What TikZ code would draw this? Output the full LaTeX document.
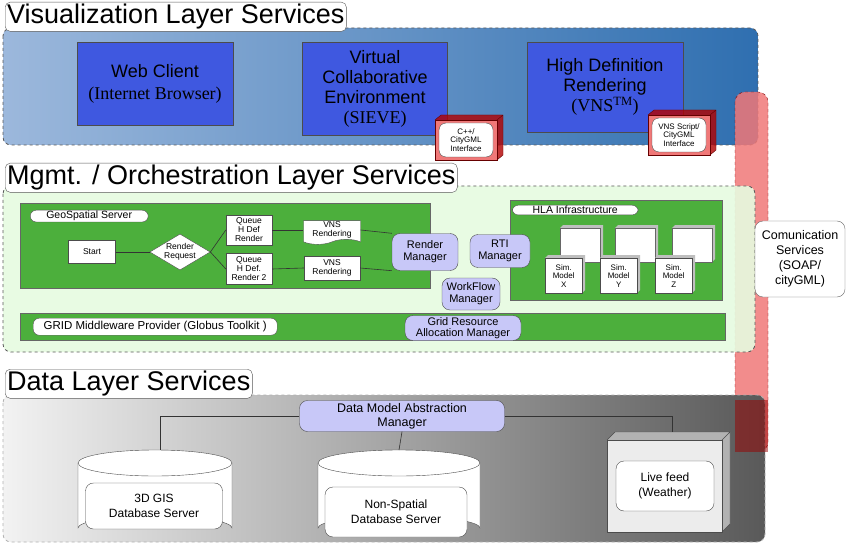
\documentclass[tikz,border=0pt]{standalone}
\usepackage{fontspec}
\setmainfont{Liberation Sans}
\usetikzlibrary{shapes.geometric,shapes.symbols}
\definecolor{vblue}{HTML}{3F58E0}
\definecolor{lav}{HTML}{C8C8F8}
\definecolor{gr}{HTML}{4CAF3C}
\definecolor{lgr}{HTML}{E6FBE0}
\definecolor{rd}{HTML}{F07878}
\definecolor{bl1}{HTML}{9CB8DC}
\definecolor{bl2}{HTML}{2F6FB0}
\tikzset{
 band/.style={draw=gray!70!black,dashed,line width=0.8pt,rounded corners=8pt},
 title/.style={draw=gray!70!black,fill=white,rounded corners=5pt,anchor=north west,font=\fontsize{27}{29}\selectfont,inner sep=2pt},
 vbox/.style={draw=black!70,fill=vblue,align=center,font=\fontsize{18}{20}\selectfont},
 lbl/.style={draw=black!70,fill=white,rounded corners=6pt,anchor=north west,font=\fontsize{10.5}{11}\selectfont,inner sep=1pt},
 mgr/.style={draw=black!70,fill=lav,rounded corners=8pt,align=center,font=\fontsize{11}{12}\selectfont,inner sep=1pt},
 wbox/.style={draw=black!70,fill=white,align=center,font=\fontsize{8.5}{9}\selectfont,inner sep=1pt},
 gbox/.style={draw=black!60,fill=gr,line width=0.8pt},
 conn/.style={draw=black!80,line width=0.6pt},
}
\begin{document}
\begin{tikzpicture}[x=1pt,y=-1pt]
\useasboundingbox[fill=white] (0,0) rectangle (850,545);
% visualization band
\shade[rounded corners=8pt,left color=bl1,right color=bl2] (3,28) rectangle (758,145);
\draw[band] (3,28) rectangle (758,145);
\node[title] (vt) at (5,2) {Visualization Layer Services};
\node[vbox,minimum width=156,minimum height=83] (web) at (155,84) {Web Client\\[2pt]{\fontspec{Liberation Serif}(Internet Browser)}};
\node[vbox,minimum width=145,minimum height=93] (vce) at (375,89) {Virtual\\Collaborative\\Environment\\{\fontspec{Liberation Serif}(SIEVE)}};
\node[vbox,minimum width=156,minimum height=90] (hdr) at (605,87) {High Definition\\Rendering\\{\fontspec{Liberation Serif}(VNS\textsuperscript{TM})}};
% interface boxes
\foreach \n/\x/\y/\t in {ci/435/120/{C++/\\CityGML\\Interface},vi/648/115/{VNS Script/\\CityGML\\Interface}}{
 \fill[red!70!black,opacity=.8] (\x,\y) -- ++(6,-5) -- ++(62,0) -- ++(0,40) -- ++(-6,5) -- cycle;
 \draw[red!40!black,fill=rd] (\x,\y) rectangle ++(62,40);
 \draw[red!40!black] (\x,\y) -- ++(6,-5) -- ++(62,0) -- ++(0,40) -- ++(-6,5) (\x+62,\y) -- ++(6,-5);
 \node[draw=black!70,fill=white,rounded corners=7pt,minimum width=54,minimum height=34,align=center,font=\fontsize{8}{8.5}\selectfont,inner sep=0pt] (\n) at (\x+31,\y+20) {\t};
}
% communication
\fill[rd,opacity=.85,rounded corners=10pt] (735,92) rectangle (768,452);
\draw[red!50!black,dashed,rounded corners=10pt] (735,92) rectangle (768,452);
% mgmt band
\fill[lgr,rounded corners=8pt,opacity=.9] (3,186) rectangle (755,352);
\draw[band] (3,186) rectangle (755,352);
\node[title] (mt) at (5,163) {Mgmt. / Orchestration Layer Services};
\node[draw=black!60,fill=white,rounded corners=8pt,align=center,font=\fontsize{12.5}{15}\selectfont,minimum width=90,minimum height=76,inner sep=1pt] (com) at (800,259) {Comunication\\Services\\(SOAP/\\cityGML)};
% geospatial
\draw[gbox] (20,203) rectangle (430,288);
\node[lbl,minimum width=118] (gl) at (30,210) {GeoSpatial Server};
\node[wbox,minimum width=47,minimum height=23] (start) at (92,252) {Start};
\node[diamond,draw=black!70,fill=white,aspect=1.7,inner sep=0pt,minimum width=60,minimum height=36,align=center,font=\fontsize{8.5}{9}\selectfont] (rr) at (180,252) {Render\\Request};
\node[wbox,minimum width=46,minimum height=30] (q1) at (249,230) {Queue\\H Def\\Render};
\node[wbox,minimum width=46,minimum height=31] (q2) at (249,269) {Queue\\H Def.\\Render 2};
\node[tape,tape bend top=none,draw=black!70,fill=white,minimum width=57,minimum height=20,align=center,font=\fontsize{8.5}{9}\selectfont,inner sep=1pt] (v1) at (332,230) {VNS\\Rendering};
\node[wbox,minimum width=56,minimum height=24] (v2) at (332,268) {VNS\\Rendering};
% HLA
\draw[gbox] (510,200) rectangle (722,300);
\node[lbl,minimum width=126] (hl) at (512,205) {HLA Infrastructure};
\foreach \bx in {560,615,672}{
 \fill[gray!50] (\bx,228) -- ++(3,-3) -- ++(40,0) -- ++(0,34) -- ++(-3,3) -- cycle;
 \draw[black!60,fill=white] (\bx,228) rectangle ++(40,34);
}
\foreach \n/\bx/\t in {sx/545/X,sy/600/Y,sz/655/Z}{
 \fill[gray!50] (\bx,258) -- ++(3,-3) -- ++(37,0) -- ++(0,35) -- ++(-3,3) -- cycle;
 \node[wbox,anchor=north west,minimum width=37,minimum height=35,font=\fontsize{8}{8.5}\selectfont] (\n) at (\bx,258) {Sim.\\Model\\\t};
}
\node[mgr,minimum width=66,minimum height=37] (rm) at (425,252) {Render\\Manager};
\node[mgr,minimum width=60,minimum height=33] (rti) at (500,251) {RTI\\Manager};
\node[mgr,minimum width=58,minimum height=32] (wf) at (471,294) {WorkFlow\\Manager};
\draw[conn] (start.east) -- (rr.west);
\draw[conn] (rr.east) -- (q1.west);
\draw[conn] (rr.east) -- (q2.west);
\draw[conn] (q1.east) -- (v1.west);
\draw[conn] (q2.east) -- (v2.west);
\draw[conn] (v1.east) -- (rm.north west);
\draw[conn] (v2.east) -- (rm.south west);
% grid
\draw[gbox] (20,313) rectangle (725,340);
\node[lbl,minimum width=244,minimum height=17,font=\fontsize{11.5}{12}\selectfont] (gd) at (33,318) {GRID Middleware Provider (Globus Toolkit )};
\node[mgr,minimum width=116,minimum height=25,font=\fontsize{11}{11.5}\selectfont] (gram) at (463,328) {Grid Resource\\Allocation Manager};
% data band
\shade[rounded corners=8pt,left color=gray!10,right color=black!65] (3,395) rectangle (765,542);
\draw[band,draw=gray!60] (3,395) rectangle (765,542);
\fill[red!60!black,opacity=.5] (735,400) rectangle (768,452);
\node[title] (dt) at (5,369) {Data Layer Services};
\node[mgr,minimum width=205,minimum height=31,font=\fontsize{12.5}{14}\selectfont] (dm) at (402,416) {Data Model Abstraction\\Manager};
% cylinders
\foreach \n/\cx/\w in {c1/155/77,c2/399/81}{
 \draw[black!70,fill=white] (\cx-\w,463) -- (\cx-\w,528) arc[start angle=180,end angle=360,x radius=\w,y radius=12] -- (\cx+\w,463);
 \draw[black!70,fill=white] (\cx,463) ellipse[x radius=\w,y radius=13];
}
\node[draw=black!70,fill=white,rounded corners=8pt,minimum width=137,minimum height=46,align=center,font=\fontsize{12}{15}\selectfont] (g1) at (154,506) {3D GIS\\Database Server};
\node[draw=black!70,fill=white,rounded corners=8pt,minimum width=142,minimum height=50,align=center,font=\fontsize{12}{15}\selectfont] (g2) at (396,512) {Non-Spatial\\Database Server};
\coordinate (c1top) at (160,450);
\coordinate (c2top) at (399,450);
% live feed
\fill[gray!60] (607,440) -- ++(8,-8) -- ++(115,0) -- ++(0,92) -- ++(-8,8) -- cycle;
\draw[black!70,fill=gray!15] (607,440) rectangle (722,532);
\draw[black!70] (607,440) -- ++(8,-8) -- ++(115,0) -- ++(0,92) -- ++(-8,8) (722,440) -- ++(8,-8);
\node[draw=black!70,fill=white,rounded corners=8pt,minimum width=98,minimum height=50,align=center,font=\fontsize{12}{15}\selectfont] (lf) at (665,486) {Live feed\\(Weather)};
\coordinate (lftop) at (672,432);
\draw[conn] (dm.west) -| (c1top);
\draw[conn] (dm.east) -| (lftop);
\draw[conn] (dm.south) -- (c2top);
\end{tikzpicture}
\end{document}
